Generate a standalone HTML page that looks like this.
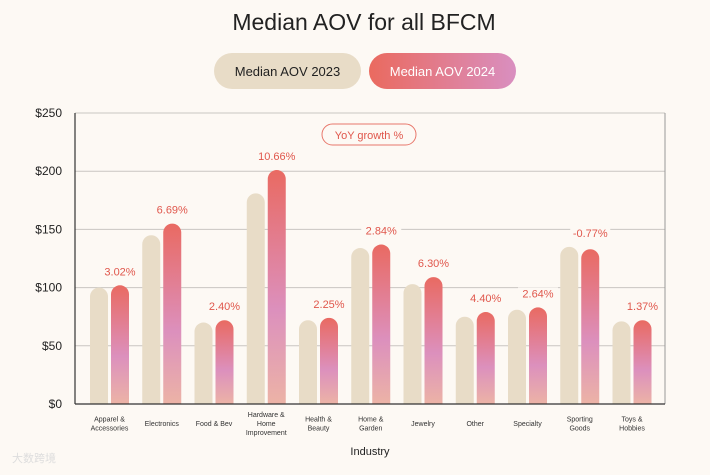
<!DOCTYPE html>
<html><head><meta charset="utf-8"><style>
body{margin:0;background:#fdf9f4;width:710px;height:470px;overflow:hidden;font-family:"Liberation Sans",sans-serif}
</style></head><body>
<svg width="710" height="470" xmlns="http://www.w3.org/2000/svg">
<defs>
<linearGradient id="g24" x1="0" y1="0" x2="0" y2="1">
<stop offset="0" stop-color="#e96a62"/><stop offset="0.6" stop-color="#dc90bd"/><stop offset="1" stop-color="#ecb3a6"/>
</linearGradient>
<linearGradient id="gp" x1="0" y1="0" x2="1" y2="0">
<stop offset="0" stop-color="#ea6a5f"/><stop offset="1" stop-color="#d98fc0"/>
</linearGradient>
</defs>
<rect width="710" height="470" fill="#fdf9f4"/>
<text x="364" y="30" text-anchor="middle" font-size="23" fill="#222">Median AOV for all BFCM</text>
<g>
<rect x="214" y="53" width="147" height="36" rx="18" fill="#e8dcc7"/>
<text x="287.5" y="76" text-anchor="middle" font-size="13" fill="#222">Median AOV 2023</text></g>
<g>
<rect x="369" y="53" width="147" height="36" rx="18" fill="url(#gp)"/>
<text x="442.5" y="76" text-anchor="middle" font-size="13" fill="#fff">Median AOV 2024</text></g>
<g id="grid"></g>
<g id="bars"></g>
<g id="axes"></g>
<g>
<rect x="322" y="124" width="94" height="21" rx="10.5" fill="#fdf9f4" stroke="#e8786c"/>
<text x="369" y="139" text-anchor="middle" font-size="11" fill="#e0574c">YoY growth %</text></g>
<text x="370" y="455" text-anchor="middle" font-size="11" fill="#222">Industry</text>
<text x="12" y="462" font-size="11" fill="#ddd">大数跨境</text>
</svg>
<script>
const categories=[["Apparel &","Accessories"],["Electronics"],["Food & Bev"],["Hardware &","Home","Improvement"],["Health &","Beauty"],["Home &","Garden"],["Jewelry"],["Other"],["Specialty"],["Sporting","Goods"],["Toys &","Hobbies"]];
const aov2023=[100,145,70,181,72,134,103,75,81,135,71];
const aov2024=[102,155,72,201,74,137,109,79,83,133,72];
const growth=["3.02%","6.69%","2.40%","10.66%","2.25%","2.84%","6.30%","4.40%","2.64%","-0.77%","1.37%"];
const yTicks=[0,50,100,150,200,250];
const yLabels=["$0","$50","$100","$150","$200","$250"];
const NS="http://www.w3.org/2000/svg";
const X0=75,X1=665,Y0=404,Y1=113;
const y=v=>Y0-(v/250)*(Y0-Y1);
const cx=i=>109.5+i*52.25;
function mk(t,a,p){const e=document.createElementNS(NS,t);for(const k in a)e.setAttribute(k,a[k]);p.appendChild(e);return e;}
const grid=document.getElementById('grid'),bars=document.getElementById('bars'),axes=document.getElementById('axes');
yTicks.forEach((v,i)=>{
 if(v>0){const l=mk('line',{x1:X0,x2:X1,y1:y(v),y2:y(v),stroke:'#c9c6c2','stroke-width':1},grid);
 
 }
 const t=mk('text',{x:62,y:y(v)+4,'text-anchor':'end','font-size':12,fill:'#222'},axes);
 t.textContent=yLabels[i];
 
 
});
const rb=mk('line',{x1:X1,x2:X1,y1:Y1,y2:Y0,stroke:'#999','stroke-width':1},axes);


const ya=mk('line',{x1:X0,x2:X0,y1:Y1,y2:Y0,stroke:'#333','stroke-width':1.2},axes);


const xa=mk('line',{x1:X0,x2:X1,y1:Y0,y2:Y0,stroke:'#333','stroke-width':1.2},axes);


const W=18;
function bar(x,v,fill){const top=y(v),h=Y0-top;
 return mk('path',{d:`M${x},${Y0}V${top+W/2}A${W/2},${W/2} 0 0 1 ${x+W},${top+W/2}V${Y0}Z`,fill:fill},bars);}
categories.forEach((c,i)=>{
 const b1=bar(cx(i)-19.5,aov2023[i],'#e8dcc7');
 
 
 const b2=bar(cx(i)+1.5,aov2024[i],'url(#g24)');
 
 
 const lx=cx(i)+10.5,ly=y(Math.max(aov2024[i],aov2023[i]))-10;
 const bg=mk('rect',{x:lx-20,y:ly-10,width:40,height:13,fill:'#fdf9f4'},bars);
 
 
 const t=mk('text',{x:lx,y:ly,'text-anchor':'middle','font-size':11,fill:'#e0574c'},bars);
 t.textContent=growth[i];
 
 
 const n=c.length,sy=426-(n-1)*4.5;
 c.forEach((s,j)=>{const tt=mk('text',{x:cx(i),y:sy+j*9,'text-anchor':'middle','font-size':7,fill:'#333'},axes);
 tt.textContent=s;
 
 });
});
</script>
</body></html>
